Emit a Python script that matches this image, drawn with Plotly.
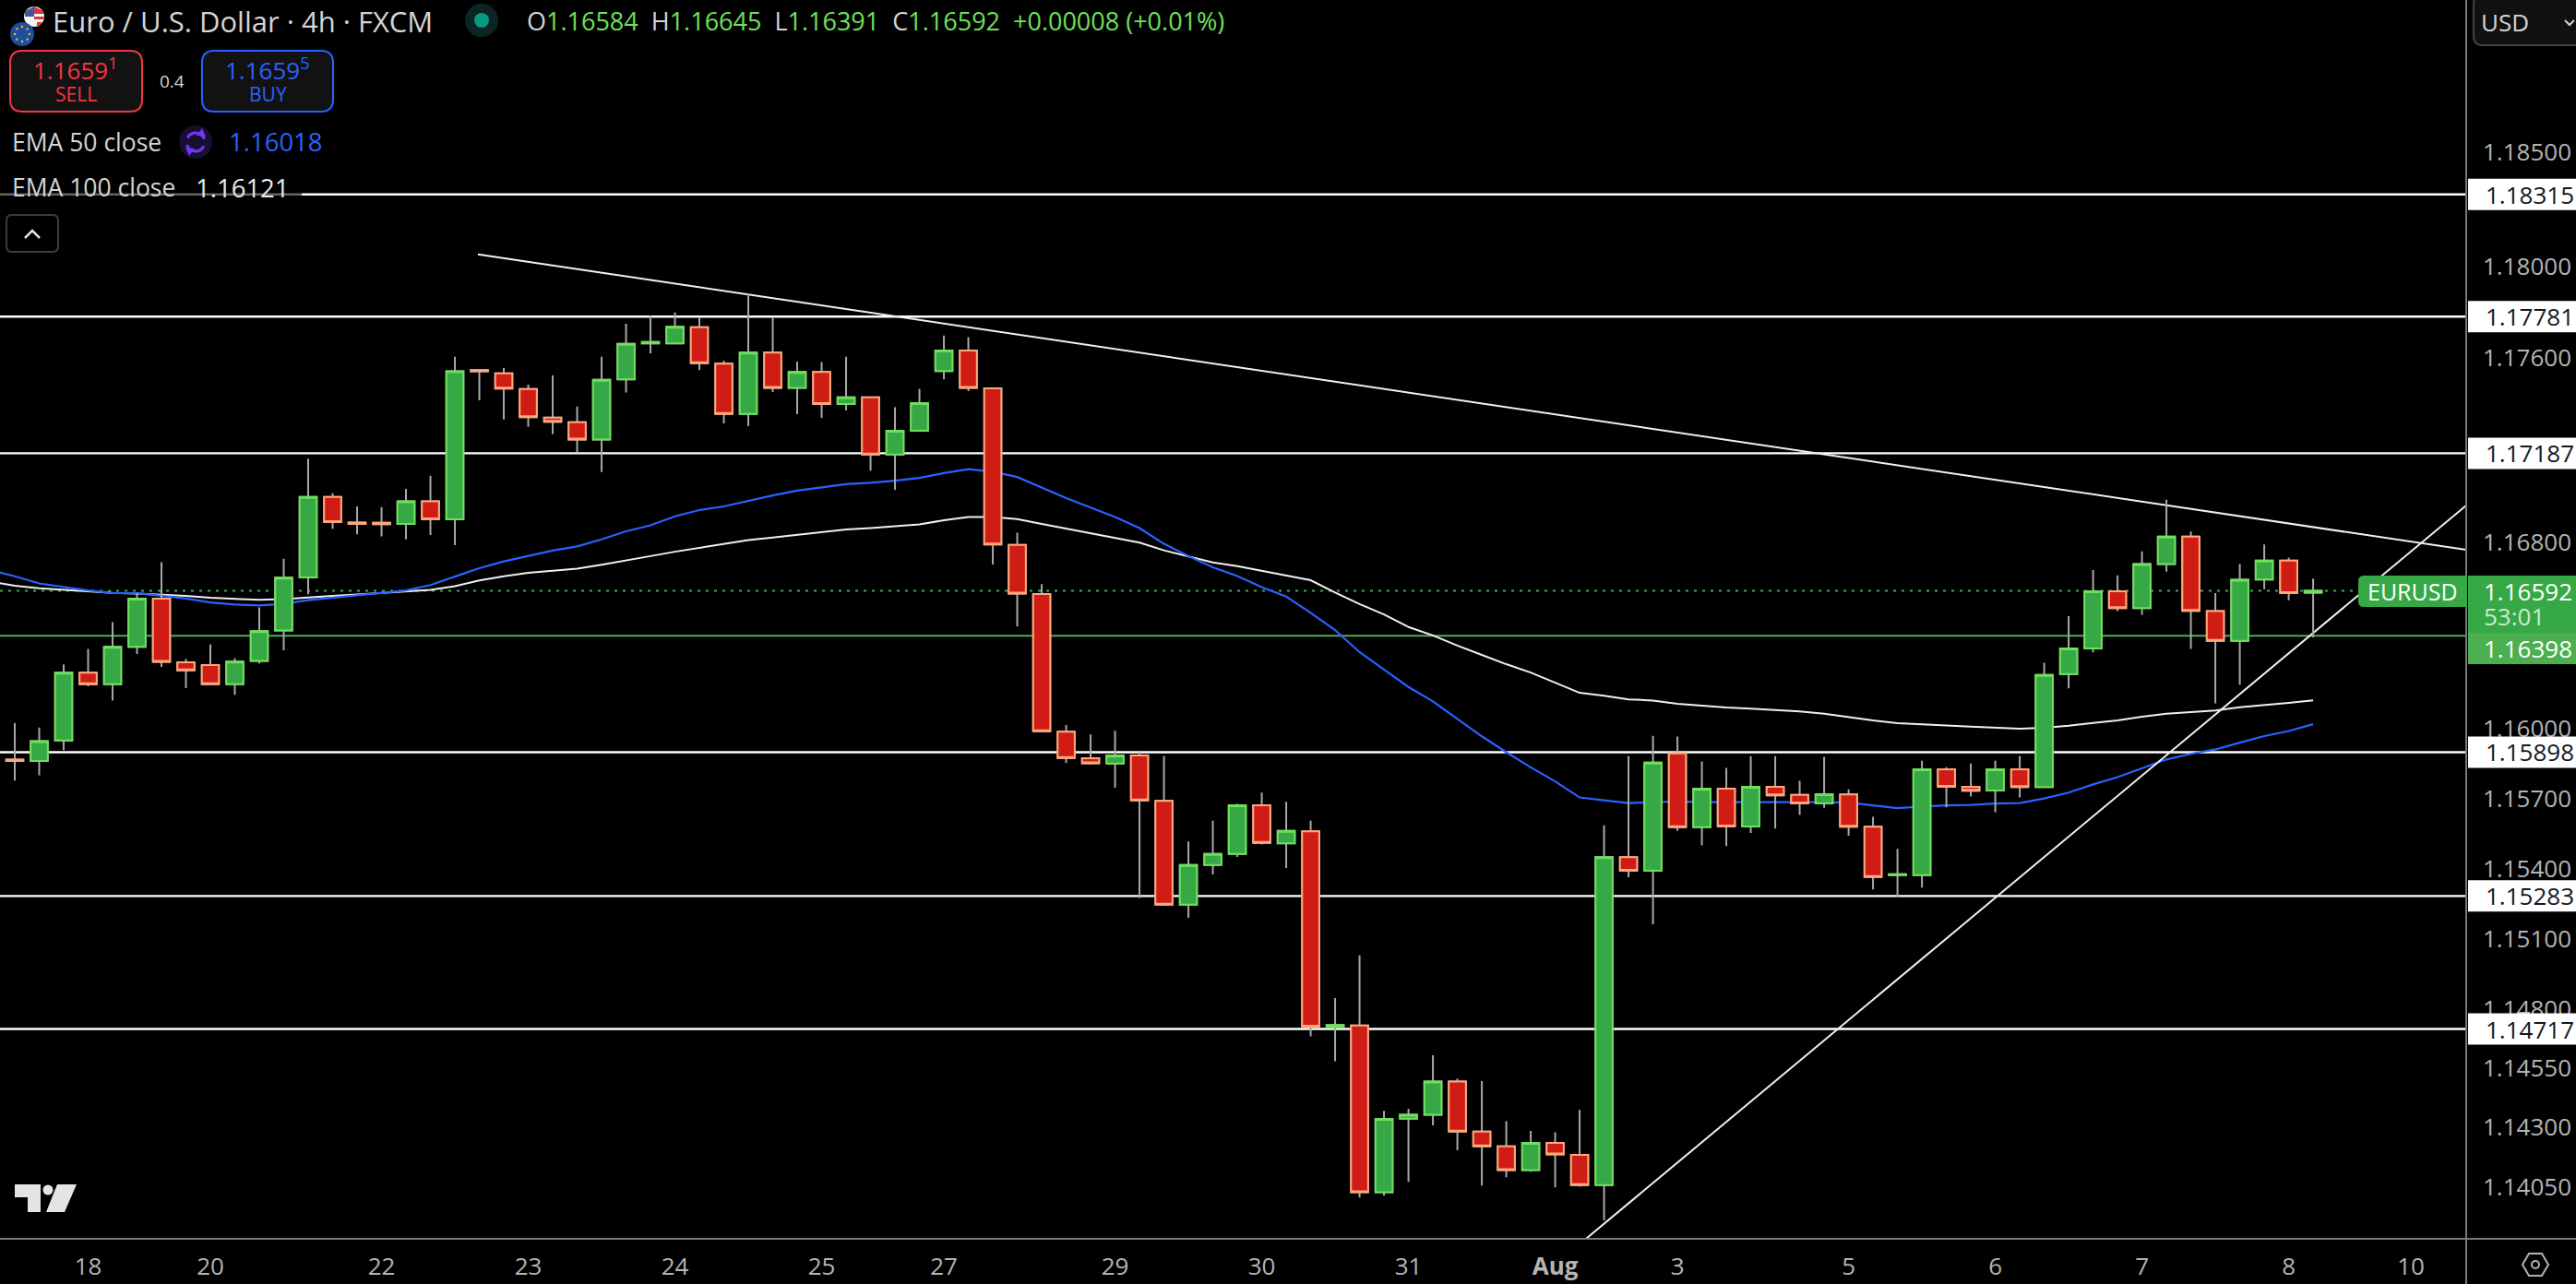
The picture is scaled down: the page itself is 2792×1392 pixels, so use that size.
import math
import plotly.graph_objects as go

# ---------- data (prices x 1e5) ----------
OPEN_E5 = [115866,115860,115948,116240,116190,116351,116558,116284,116272,116190,116290,116421,116650,116998,116887,116886,116881,116979,116901,117548,
           117534,117466,117342,117322,117247,117508,117665,117665,117735,117576,117358,117624,117471,117540,117401,117430,117182,117285,117544,117633,
           117469,116790,116578,115986,115872,115849,115884,115689,115246,115415,115463,115671,115508,115559,114725,114732,114026,114337,114354,114494,
           114283,114220,114120,114235,114184,114057,115449,115391,115893,115577,115742,115580,115750,115715,115679,115717,115579,115372,115372,115825,
           115750,115734,115825,115749,116234,116344,116590,116518,116708,116826,116505,116377,116641,116723,116584]
HIGH_E5 = [116024,116004,116275,116342,116457,116583,116716,116298,116362,116302,116521,116731,117164,117014,116957,116954,117033,117090,117606,117548,
           117557,117485,117525,117390,117606,117750,117785,117799,117776,117589,117883,117776,117585,117583,117606,117433,117387,117467,117699,117692,
           117473,116843,116621,116015,115974,115990,115898,115882,115516,115605,115678,115725,115685,115605,114849,115030,114370,114379,114606,114507,
           114496,114326,114285,114280,114374,115585,115881,115968,115965,115858,115831,115881,115881,115775,115878,115739,115621,115484,115861,115834,
           115849,115861,115881,116282,116483,116682,116659,116762,116986,116848,116582,116709,116792,116736,116645]
LOW_E5 = [115776,115799,115907,116181,116120,116320,116264,116173,116188,116144,116279,116336,116577,116860,116836,116827,116814,116833,116789,117417,
          117334,117302,117270,117193,117106,117451,117621,117665,117548,117317,117305,117453,117357,117341,117373,117112,117029,117285,117508,117457,
          116706,116439,115988,115852,115845,115746,115274,115246,115190,115375,115450,115503,115403,114686,114580,114004,114012,114070,114309,114204,
          114055,114090,114113,114047,114050,113908,115363,115163,115561,115499,115496,115552,115571,115629,115660,115540,115311,115281,115319,115662,
          115708,115641,115704,115745,116172,116327,116505,116489,116675,116342,116108,116188,116599,116551,116391]
CLOSE_E5 = [115860,115945,116240,116190,116351,116558,116286,116249,116190,116287,116418,116649,116998,116889,116881,116880,116979,116901,117543,117543,
            117468,117344,117324,117247,117506,117663,117671,117737,117578,117358,117624,117471,117540,117401,117430,117182,117285,117405,117633,117471,
            116792,116580,115988,115873,115850,115884,115691,115246,115415,115463,115671,115510,115561,114727,114734,114026,114336,114354,114494,114283,
            114220,114120,114235,114186,114057,115449,115391,115853,115577,115742,115580,115750,115713,115679,115718,115579,115364,115376,115825,115750,
            115733,115825,115749,116230,116344,116590,116518,116708,116826,116506,116377,116640,116723,116582,116592]

EMA50_E5 = [116682,116655,116624,116609,116594,116583,116582,116571,116559,116542,116533,116529,116536,116552,116562,116573,116583,116594,116617,116652,
            116690,116719,116743,116766,116784,116814,116849,116875,116914,116941,116957,116982,117004,117025,117039,117053,117059,117068,117080,117101,
            117118,117107,117084,117037,116993,116952,116911,116863,116795,116742,116694,116656,116608,116567,116497,116423,116328,116253,116178,116116,
            116041,115966,115898,115833,115773,115704,115692,115680,115684,115687,115684,115684,115684,115684,115685,115684,115682,115671,115658,115665,
            115670,115672,115678,115680,115700,115725,115760,115791,115828,115867,115891,115910,115939,115967,115989,116018]
EMA100_E5 = [116632,116614,116603,116596,116590,116583,116580,116576,116570,116562,116558,116553,116556,116564,116570,116576,116582,116590,116596,116612,
             116637,116655,116670,116679,116688,116705,116725,116742,116761,116777,116792,116811,116822,116834,116845,116857,116863,116870,116879,116897,
             116911,116911,116902,116881,116861,116841,116822,116800,116767,116740,116715,116699,116678,116658,116638,116585,116535,116490,116436,116400,
             116356,116316,116276,116240,116198,116153,116140,116125,116120,116106,116098,116090,116085,116080,116073,116063,116049,116034,116023,116019,
             116013,116008,116004,115999,116003,116012,116024,116034,116050,116063,116070,116077,116091,116100,116110,116121]
EMA_INDEX = list(range(-1, 95))

WHITE_LEVELS = [1.18315, 1.17781, 1.17187, 1.15898, 1.15283, 1.14717]
GREEN_LEVEL = 1.16398
LAST_PRICE = 1.16592

DOWN_TREND_X = [18.94, 100.26]
DOWN_TREND_Y = [1.18053, 1.16769]
UP_TREND_X = [64.26, 100.26]
UP_TREND_Y = [1.1383, 1.16961]

PRICE_TICKS = [1.185, 1.18, 1.176, 1.168, 1.16, 1.157, 1.154, 1.151, 1.148, 1.1455, 1.143, 1.1405]
DATE_TICK_INDEX = [3, 8, 15, 21, 27, 33, 38, 45, 51, 57, 63, 68, 75, 81, 87, 93, 98]
DATE_TICK_TEXT = ["18", "20", "22", "23", "24", "25", "27", "29", "30", "31", "<b>Aug</b>", "3", "5", "6", "7", "8", "10"]

# ---------- layout constants ----------
W, H = 2792, 1392
PLOT_R, PLOT_B = 2673, 1343
PRICE_TOP, PRICE_BOTTOM = 1.19169, 1.1383
X_RANGE = [-0.604, 100.26]
FONT = "Open Sans"
GREY = "#b4b4b4"
TXT = "#d4d4d4"
UP_FILL, UP_EDGE = "#37a846", "#6fe05a"
DN_FILL, DN_EDGE = "#cf1c15", "#ffa77a"
WICK = "#a8a8a8"
NUM_SIZE = 26

opens = [v / 1e5 for v in OPEN_E5]
highs = [v / 1e5 for v in HIGH_E5]
lows = [v / 1e5 for v in LOW_E5]
closes = [v / 1e5 for v in CLOSE_E5]
ema50 = [v / 1e5 for v in EMA50_E5]
ema100 = [v / 1e5 for v in EMA100_E5]
idx = list(range(len(opens)))

lo10, hi10 = math.log10(PRICE_BOTTOM), math.log10(PRICE_TOP)


def px(x):
    return x / PLOT_R


def py(y):
    return 1 - y / PLOT_B


def price_paper(p):
    return (math.log10(p) - lo10) / (hi10 - lo10)


fig = go.Figure()

# horizontal levels, EMAs, trend lines sit under the candles
for lvl in WHITE_LEVELS:
    fig.add_trace(go.Scatter(x=X_RANGE, y=[lvl, lvl], mode="lines",
                             line=dict(color="#ffffff", width=2.4), yaxis="y"))
fig.add_trace(go.Scatter(x=X_RANGE, y=[GREEN_LEVEL, GREEN_LEVEL], mode="lines",
                         line=dict(color="#4caf50", width=2), yaxis="y"))
fig.add_trace(go.Scatter(x=X_RANGE, y=[LAST_PRICE, LAST_PRICE], mode="lines",
                         line=dict(color="#3fae4e", width=2, dash="3px,6px"), yaxis="y"))
fig.add_trace(go.Scatter(x=EMA_INDEX, y=ema100, mode="lines",
                         line=dict(color="#f0f0f0", width=2), yaxis="y"))
fig.add_trace(go.Scatter(x=EMA_INDEX, y=ema50, mode="lines",
                         line=dict(color="#2962ff", width=2.2), yaxis="y"))
fig.add_trace(go.Scatter(x=DOWN_TREND_X, y=DOWN_TREND_Y, mode="lines",
                         line=dict(color="#f0f0f0", width=2), yaxis="y"))
fig.add_trace(go.Scatter(x=UP_TREND_X, y=UP_TREND_Y, mode="lines",
                         line=dict(color="#f0f0f0", width=2), yaxis="y"))

# wicks
fig.add_trace(go.Candlestick(x=idx, open=opens, high=highs, low=lows, close=closes, yaxis="y2",
                             whiskerwidth=0,
                             increasing=dict(line=dict(color=WICK, width=2), fillcolor=WICK),
                             decreasing=dict(line=dict(color=WICK, width=2), fillcolor=WICK)))
# bodies
fig.add_trace(go.Candlestick(x=idx, open=opens, close=closes,
                             high=[max(o, c) for o, c in zip(opens, closes)],
                             low=[min(o, c) for o, c in zip(opens, closes)], yaxis="y2",
                             whiskerwidth=0,
                             increasing=dict(line=dict(color=UP_EDGE, width=2), fillcolor=UP_FILL),
                             decreasing=dict(line=dict(color=DN_EDGE, width=2), fillcolor=DN_FILL)))

shapes = []
annots = []


def rrect(x0, y0, x1, y1, fill, line=None, lw=0, r=0, corners=(1, 1, 1, 1)):
    X0, X1 = px(x0), px(x1)
    tl, tr, br, bl = [r * c for c in corners]
    p = (f"M{px(x0 + tl)},{py(y0)} L{px(x1 - tr)},{py(y0)} Q{X1},{py(y0)} {X1},{py(y0 + tr)} "
         f"L{X1},{py(y1 - br)} Q{X1},{py(y1)} {px(x1 - br)},{py(y1)} "
         f"L{px(x0 + bl)},{py(y1)} Q{X0},{py(y1)} {X0},{py(y1 - bl)} "
         f"L{X0},{py(y0 + tl)} Q{X0},{py(y0)} {px(x0 + tl)},{py(y0)} Z")
    s = dict(type="path", path=p, xref="paper", yref="paper", fillcolor=fill, layer="above",
             line=dict(color=line or "rgba(0,0,0,0)", width=lw))
    shapes.append(s)


def circle(cx, cy, r, fill, line=None, lw=0):
    shapes.append(dict(type="circle", xref="paper", yref="paper", layer="above",
                       x0=px(cx - r), x1=px(cx + r), y0=py(cy + r), y1=py(cy - r),
                       fillcolor=fill, line=dict(color=line or "rgba(0,0,0,0)", width=lw)))


def poly(points, fill=None, line=None, lw=0, close=True):
    p = "M" + " L".join(f"{px(x)},{py(y)}" for x, y in points) + (" Z" if close else "")
    shapes.append(dict(type="path", path=p, xref="paper", yref="paper", layer="above",
                       fillcolor=fill or "rgba(0,0,0,0)",
                       line=dict(color=line or "rgba(0,0,0,0)", width=lw)))


def label(x, y, text, size, color, anchor="left"):
    annots.append(dict(x=px(x), y=py(y), xref="paper", yref="paper", text=text, showarrow=False,
                       xanchor=anchor, yanchor="middle", borderpad=0, borderwidth=0,
                       font=dict(family=FONT, size=size, color=color)))


# axes frame
shapes.append(dict(type="line", xref="paper", yref="paper", x0=0, x1=W / PLOT_R, y0=py(PLOT_B), y1=py(PLOT_B),
                   line=dict(color="#787878", width=2), layer="above"))
shapes.append(dict(type="line", xref="paper", yref="paper", x0=1, x1=1, y0=py(H), y1=py(0),
                   line=dict(color="#787878", width=2), layer="above"))

# header icons
circle(37, 18, 11, "#f4f4f4")
poly([(37, 7), (47, 12), (47, 15), (37, 15)], fill="#d8333f")
poly([(37, 18), (48, 18), (47, 21), (37, 21)], fill="#d8333f")
poly([(40, 24), (46, 24), (42, 29), (40, 29)], fill="#d8333f")
poly([(27, 12), (37, 7), (37, 18), (27, 18)], fill="#3c5a9a")
circle(24, 37, 13, "#1f4ea1")
for k in range(8):
    a = k * math.pi / 4
    circle(24 + 8 * math.cos(a), 37 + 8 * math.sin(a), 1.2, "#f5c518")
label(57, 23, "Euro / U.S. Dollar · 4h · FXCM", 31, TXT)
circle(522, 22, 18, "#0b2622")
circle(522, 22, 8, "#089981")
G = "#6fe05a"
ohlc = (f"<span style='color:{TXT}'>O</span>1.16584 <span style='color:{TXT}'> H</span>1.16645"
        f" <span style='color:{TXT}'> L</span>1.16391 <span style='color:{TXT}'> C</span>1.16592  +0.00008 (+0.01%)")
label(571, 23, ohlc, 27, G)

# sell / buy
rrect(11, 55, 154, 121, "#121212", "#f23645", 2, 13)
rrect(219, 55, 361, 121, "#121212", "#2962ff", 2, 13)
label(82, 75, "1.1659<sup>1</sup>", NUM_SIZE, "#f23645", "center")
label(82, 102, "SELL", 21, "#f23645", "center")
label(290, 75, "1.1659<sup>5</sup>", NUM_SIZE, "#2962ff", "center")
label(290, 102, "BUY", 21, "#2962ff", "center")
label(186, 88, "0.4", 19, TXT, "center")

# indicator legend
label(13, 154, "EMA 50 close", 26.5, TXT)
circle(212, 154, 18, "#170f2e")
for start in (0.15, 1.15):
    arc = [(212 + 10 * math.cos((start + t / 8 * 0.75) * math.pi),
            154 + 10 * math.sin((start + t / 8 * 0.75) * math.pi)) for t in range(9)]
    poly(arc, line="#7433f5", lw=3.2, close=False)
poly([(219, 139), (223, 148), (213, 147)], fill="#7433f5")
poly([(205, 169), (201, 160), (211, 161)], fill="#7433f5")
label(248, 154, "1.16018", 27.5, "#2962ff")
rrect(0, 191, 327, 212, "rgba(0,0,0,0.6)")
label(13, 203, "EMA 100 close", 26.5, TXT)
label(212, 203, "1.16121", 27.5, "#e8e8e8")
rrect(7, 233, 63, 273, "#000000", "#3c3c3c", 2, 6)
poly([(27, 258), (35, 250), (43, 258)], line="#e6e6e6", lw=2.5, close=False)

# USD selector
rrect(2681, -6, 2800, 49, "#111111", "#444444", 2, 10)
label(2689, 24, "USD", NUM_SIZE, TXT)
poly([(2780, 22), (2785, 27), (2790, 22)], line=TXT, lw=2, close=False)

# TradingView mark
poly([(16, 1284), (44, 1284), (44, 1314), (30, 1314), (30, 1298), (16, 1298)], fill="#e4e4e4")
circle(52, 1290, 5.5, "#e4e4e4")
poly([(62, 1284), (83, 1284), (70, 1314), (50, 1314)], fill="#e4e4e4")

# gear
poly([(2734, 1371), (2741, 1359), (2755, 1359), (2762, 1371), (2755, 1383), (2741, 1383)], line=GREY, lw=2)
circle(2748, 1371, 4, "rgba(0,0,0,0)", GREY, 2)

# price badges
for lvl in WHITE_LEVELS:
    yc = price_paper(lvl)
    d = 17 / PLOT_B
    shapes.append(dict(type="rect", xref="paper", yref="paper", layer="above",
                       x0=px(2675), x1=W / PLOT_R, y0=yc - d, y1=yc + d,
                       fillcolor="#ffffff", line=dict(width=0)))
    annots.append(dict(x=px(2692), y=yc, xref="paper", yref="paper", text=f"{lvl:.5f}", showarrow=False,
                       xanchor="left", yanchor="middle", font=dict(family=FONT, size=NUM_SIZE, color="#131722")))

rrect(2556, 624, 2674, 658, "#37a846", None, 0, 6, corners=(1, 0, 0, 1))
rrect(2675, 624, W, 686, "#37a846")
rrect(2675, 686, W, 720, "#4caf50")
label(2566, 641, "EURUSD", NUM_SIZE - 1, "#ffffff")
label(2692, 641, f"{LAST_PRICE:.5f}", NUM_SIZE, "#ffffff")
label(2692, 668, "53:01", NUM_SIZE, "#cfe9d3")
label(2692, 703, f"{GREEN_LEVEL:.5f}", NUM_SIZE, "#ffffff")

fig.update_layout(
    width=W, height=H, margin=dict(l=0, r=W - PLOT_R, t=0, b=H - PLOT_B, pad=0),
    paper_bgcolor="#000000", plot_bgcolor="#000000", showlegend=False,
    boxmode="overlay", boxgap=0.3, boxgroupgap=0, hovermode=False,
    font=dict(family=FONT, color=GREY),
    xaxis=dict(range=X_RANGE, rangeslider=dict(visible=False), showgrid=False, zeroline=False,
               tickmode="array", tickvals=DATE_TICK_INDEX, ticktext=DATE_TICK_TEXT,
               ticks="", showline=False, tickfont=dict(family=FONT, size=NUM_SIZE, color=GREY),
               ticklabelstandoff=12),
    yaxis=dict(type="log", range=[lo10, hi10], side="right", showgrid=False, zeroline=False,
               tickmode="array", tickvals=PRICE_TICKS, ticktext=[f"{t:.5f}" for t in PRICE_TICKS],
               ticks="", showline=False, tickfont=dict(family=FONT, size=NUM_SIZE, color=GREY),
               ticklabelstandoff=17),
    yaxis2=dict(type="log", range=[lo10, hi10], overlaying="y", side="right", visible=False),
    shapes=shapes, annotations=annots,
)

fig.write_html("out.html", config=dict(displayModeBar=False),
               post_script="document.body.style.margin='0';document.body.style.overflow='hidden';document.body.style.background='#000';")
